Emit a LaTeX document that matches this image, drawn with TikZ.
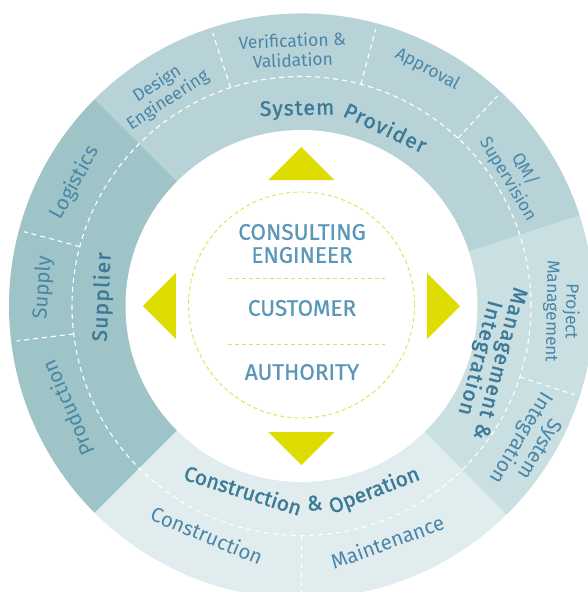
\documentclass[tikz,border=0pt]{standalone}
\usepackage{fontspec}
\setmainfont{Fira Sans}
\newfontfamily\innerfont[FakeBold=1.5]{Fira Sans}
\newfontfamily\widefont[FakeBold=1.5, LetterSpace=6]{Fira Sans}
\newfontfamily\centerfont[FakeBold=0.8]{Fira Sans}
\definecolor{provcol}{HTML}{B8D3D8}
\definecolor{suppcol}{HTML}{9FC4C8}
\definecolor{mgmtcol}{HTML}{C9DFE2}
\definecolor{conscol}{HTML}{E0ECED}
\definecolor{lblue}{HTML}{4A86A8}
\definecolor{dblue}{HTML}{3D7A98}
\definecolor{cblue}{HTML}{5A97B8}
\definecolor{myell}{HTML}{DEDC00}
\definecolor{lyell}{HTML}{E4E04A}

\begin{document}
\begin{tikzpicture}[x=1pt, y=1pt,
    outerlbl/.style={text=lblue, font=\fontsize{17.5}{19.5}\selectfont, align=center, inner sep=0pt},
    outerbig/.style={outerlbl, font=\fontsize{20.5}{22}\selectfont},
    innerlbl/.style={text=dblue, font=\innerfont\fontsize{21}{21}\selectfont, align=center, inner sep=0pt},
    innerwide/.style={innerlbl, font=\widefont\fontsize{21}{21}\selectfont},
    centerlbl/.style={text=cblue, font=\centerfont\fontsize{22.5}{23}\selectfont, align=center, inner sep=0pt},
    sepline/.style={white, dash pattern=on 5pt off 4pt, line width=1.1pt},
    yelline/.style={lyell, dash pattern=on 4pt off 3pt, line width=0.9pt},
    arrowtri/.style={fill=myell}]
    \useasboundingbox (-301.5,-286) rectangle (286.5,306);
    \clip (-301.5,-286) rectangle (286.5,306);

    % sectors
    \fill[provcol] (0,0) -- (18:292.5) arc[start angle=18, end angle=135, radius=292.5] -- cycle;
    \fill[suppcol] (0,0) -- (135:292.5) arc[start angle=135, end angle=225, radius=292.5] -- cycle;
    \fill[conscol] (0,0) -- (225:292.5) arc[start angle=225, end angle=314.5, radius=292.5] -- cycle;
    \fill[mgmtcol] (0,0) -- (-45.5:292.5) arc[start angle=-45.5, end angle=18, radius=292.5] -- cycle;
    \fill[white] (0,0) circle (176);

    \draw[sepline] (0,0) circle (229.5);
    \draw[sepline] (108:229.5) -- (108:287);
    \draw[sepline] (75:229.5) -- (75:287);
    \draw[sepline] (47:229.5) -- (47:287);
    \draw[sepline] (165:229.5) -- (165:287);
    \draw[sepline] (187:229.5) -- (187:287);
    \draw[sepline] (-18:229.5) -- (-18:287);
    \draw[sepline] (-90:229.5) -- (-90:287);

    % inner ring
    \node[innerwide, rotate=1.3] (system) at (91.3:196) {System};
    \node[innerwide, rotate=-25.2] (provider) at (64.8:197.5) {Provider};
    \node[innerwide, rotate=87.4] (supplier) at (177.4:199) {Supplier};
    \node[innerlbl, rotate=-17.4] (construct) at (252.4:193) {Construction};
    \node[innerlbl, rotate=3.8] (amp) at (273.8:197.5) {\&};
    \node[innerlbl, rotate=21.5] (operation) at (291.5:199) {Operation};
    \node[innerwide, rotate=-105] (mgmt) at (-16.2:195) {Management \&\\Integration};

    % outer ring
    \node[outerlbl, rotate=33] (design) at (123:255) {Design\\Engineering};
    \node[outerlbl, rotate=2] (verif) at (92:256) {Verification \&\\Validation};
    \node[outerlbl, rotate=-28] (approval) at (62:268) {Approval};
    \node[outerlbl, rotate=-59] (qm) at (31.5:252) {QM/\\Supervision};
    \node[outerlbl, rotate=-91] (projmgmt) at (-1.2:260) {Project\\Management};
    \node[outerbig, rotate=-121] (sysint) at (-31:266) {System\\Integration};
    \node[outerbig, rotate=20] (maint) at (-70:251) {Maintenance};
    \node[outerbig, rotate=-22.4] (constr) at (247.6:248) {Construction};
    \node[outerbig, rotate=113.6] (prod) at (203.6:255) {Production};
    \node[outerbig, rotate=86] (supply) at (176:259) {Supply};
    \node[outerbig, rotate=61.5] (logist) at (151.5:258) {Logistics};

    % centre
    \fill[arrowtri] (0,159) -- (-33,126) -- (33,126) -- cycle;
    \fill[arrowtri] (0,-159) -- (-33,-126) -- (33,-126) -- cycle;
    \fill[arrowtri] (-158.5,0) -- (-125.5,33) -- (-125.5,-33) -- cycle;
    \fill[arrowtri] (158.5,0) -- (125.5,33) -- (125.5,-33) -- cycle;
    \draw[yelline] (0,1) circle (113);
    \draw[yelline] (-73.5,28) -- (83.5,28);
    \draw[yelline] (-73.5,-38) -- (83.5,-38);
    \node[centerlbl] (consult) at (0.5,62.5) {CONSULTING\\ENGINEER};
    \node[centerlbl] (customer) at (0.5,-2) {CUSTOMER};
    \node[centerlbl] (authority) at (0.5,-66) {AUTHORITY};
\end{tikzpicture}
\end{document}
